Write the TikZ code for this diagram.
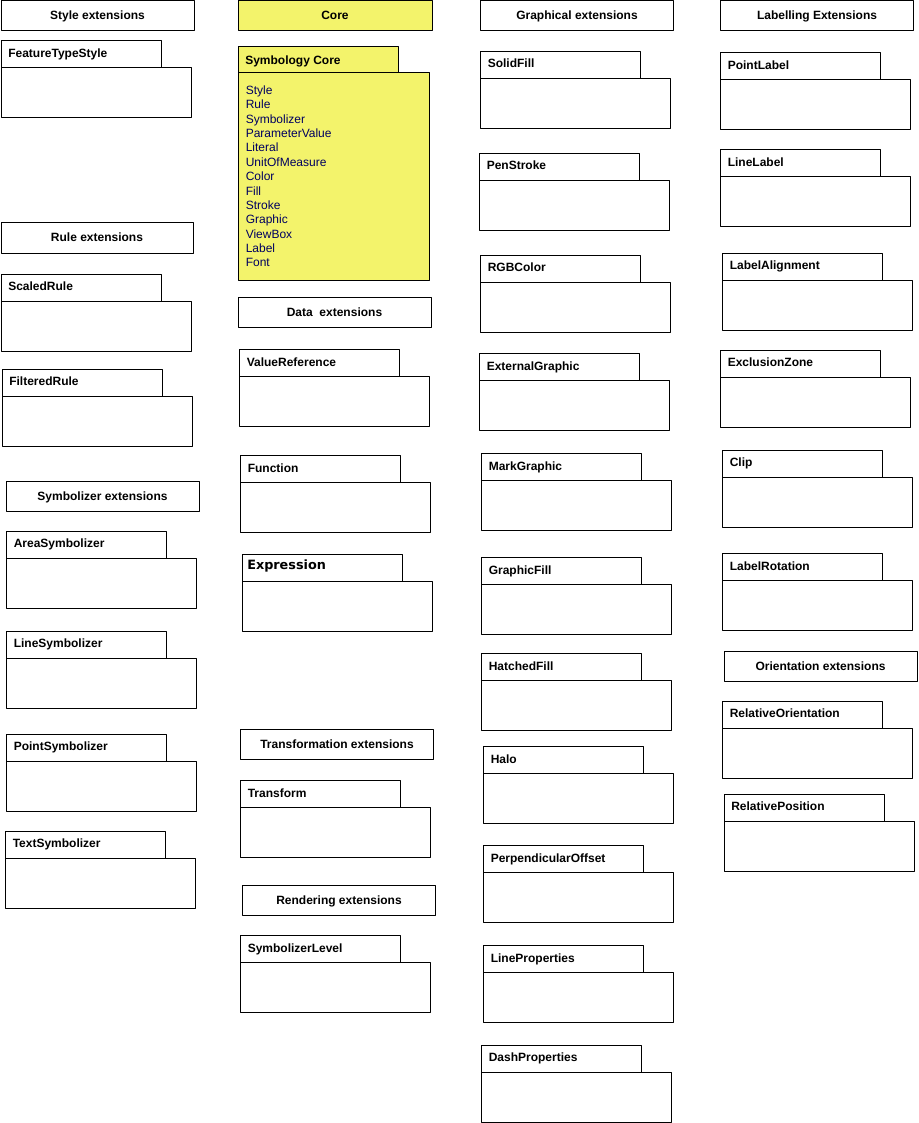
\documentclass[tikz,border=0pt]{standalone}
\usepackage{fontspec}
\setmainfont{Liberation Sans}
\newfontfamily\exprfont{DejaVu Sans}
\definecolor{coreyellow}{RGB}{243,243,107}
\definecolor{coretext}{RGB}{0,0,96}

% package box: name, x, y (top of tab), label
\newcommand{\pkgbox}[4]{%
  \draw[pkgline] (#2,#3) rectangle ++(160,27);
  \draw[pkgline] (#2,#3+27) rectangle ++(190,50);
  \node[pkglabel] (#1) at (#2+7,#3+16.5) {#4};}
% header box: name, x, y, width, label
\newcommand{\hdrbox}[5]{%
  \draw[pkgline] (#2,#3) rectangle ++(#4,30);
  \node[hdrlabel] (#1) at (#2+#4/2,#3+15) {#5};}

\begin{document}
\begin{tikzpicture}[x=0.75pt,y=-0.75pt,line cap=round,line join=round,
  pkgline/.style={line width=0.75pt},
  pkglabel/.style={anchor=base west,inner sep=0pt,font=\bfseries\fontsize{9}{10.8}\selectfont},
  hdrlabel/.style={anchor=center,inner sep=0pt,text height=6pt,text depth=0pt,font=\bfseries\fontsize{9}{10.8}\selectfont},
  corelist/.style={anchor=base west,inner sep=0pt,text=coretext,font=\fontsize{9}{10.8}\selectfont}]
\useasboundingbox (0,0) rectangle (918,1123);

% ---- style, rule and symbolizer extensions ----
\hdrbox{styleext}{1}{0.5}{193}{Style extensions}
\pkgbox{fts}{1}{41}{FeatureTypeStyle}

\hdrbox{ruleext}{1}{223}{192}{Rule extensions}
\pkgbox{scaledrule}{1}{274}{ScaledRule}
\pkgbox{filteredrule}{2}{369}{FilteredRule}

\hdrbox{symbext}{6}{481}{193}{Symbolizer extensions}
\pkgbox{areasym}{6.5}{531}{AreaSymbolizer}
\pkgbox{linesym}{6.5}{631}{LineSymbolizer}
\pkgbox{pointsym}{6.5}{734}{PointSymbolizer}
\pkgbox{textsym}{5.5}{831}{TextSymbolizer}

% ---- core (yellow) ----
\draw[pkgline,fill=coreyellow] (238,0.5) rectangle ++(194,30);
\node[hdrlabel] (core) at (335,15.5) {Core};

\draw[pkgline,fill=coreyellow] (238,47) rectangle ++(160,26);
\draw[pkgline,fill=coreyellow] (238,73) rectangle ++(191,207);
\node[pkglabel] (symbcore) at (245,65) {Symbology Core};
\foreach \entry [count=\i] in {Style,Rule,Symbolizer,ParameterValue,Literal,UnitOfMeasure,Color,Fill,Stroke,Graphic,ViewBox,Label,Font}
  \node[corelist] (core\i) at (245.5,{94.5+14.37*(\i-1)}) {\entry};

% ---- data, transformation and rendering extensions ----
\hdrbox{dataext}{238}{297}{193}{Data\ \ extensions}
\pkgbox{valueref}{239.5}{349.5}{ValueReference}
\pkgbox{function}{240.5}{455.5}{Function}

\draw[pkgline] (242,554.5) rectangle ++(160,27);
\draw[pkgline] (242,581.5) rectangle ++(190,50);
\node[anchor=base west,inner sep=0pt,font=\exprfont\bfseries\fontsize{9.6}{11}\selectfont] (expression) at (247,569.5) {Expression};

\hdrbox{transext}{240.5}{729.5}{193}{Transformation extensions}
\pkgbox{transform}{240.5}{780.5}{Transform}

\hdrbox{renderext}{242.5}{885.5}{193}{Rendering extensions}
\pkgbox{symblevel}{240.5}{935.5}{SymbolizerLevel}

% ---- graphical extensions ----
\hdrbox{graphext}{480.5}{0.5}{193}{Graphical extensions}
\pkgbox{solidfill}{480.5}{51.5}{SolidFill}
\pkgbox{penstroke}{479.5}{153.5}{PenStroke}
\pkgbox{rgbcolor}{480.5}{255.5}{RGBColor}
\pkgbox{extgraphic}{479.5}{353.5}{ExternalGraphic}
\pkgbox{markgraphic}{481.5}{453.5}{MarkGraphic}
\pkgbox{graphicfill}{481.5}{557.5}{GraphicFill}
\pkgbox{hatchedfill}{481.5}{653.5}{HatchedFill}
\pkgbox{halo}{483.5}{746.5}{Halo}
\pkgbox{perpoffset}{483.5}{845.5}{PerpendicularOffset}
\pkgbox{lineprops}{483.5}{945.5}{LineProperties}
\pkgbox{dashprops}{481.5}{1045}{DashProperties}

% ---- labelling and orientation extensions ----
\hdrbox{labelext}{720.5}{0.5}{193}{Labelling Extensions}
\pkgbox{pointlabel}{720.5}{53}{PointLabel}
\pkgbox{linelabel}{720.5}{150}{LineLabel}
\pkgbox{labelalign}{722.5}{253}{LabelAlignment}
\pkgbox{exclzone}{720.5}{350}{ExclusionZone}
\pkgbox{clip}{722.5}{450}{Clip}
\pkgbox{labelrot}{722.5}{553.5}{LabelRotation}

\hdrbox{orientext}{724}{651}{193}{Orientation extensions}
\pkgbox{relorient}{722.5}{701}{RelativeOrientation}
\pkgbox{relpos}{724}{794}{RelativePosition}
\end{tikzpicture}
\end{document}
